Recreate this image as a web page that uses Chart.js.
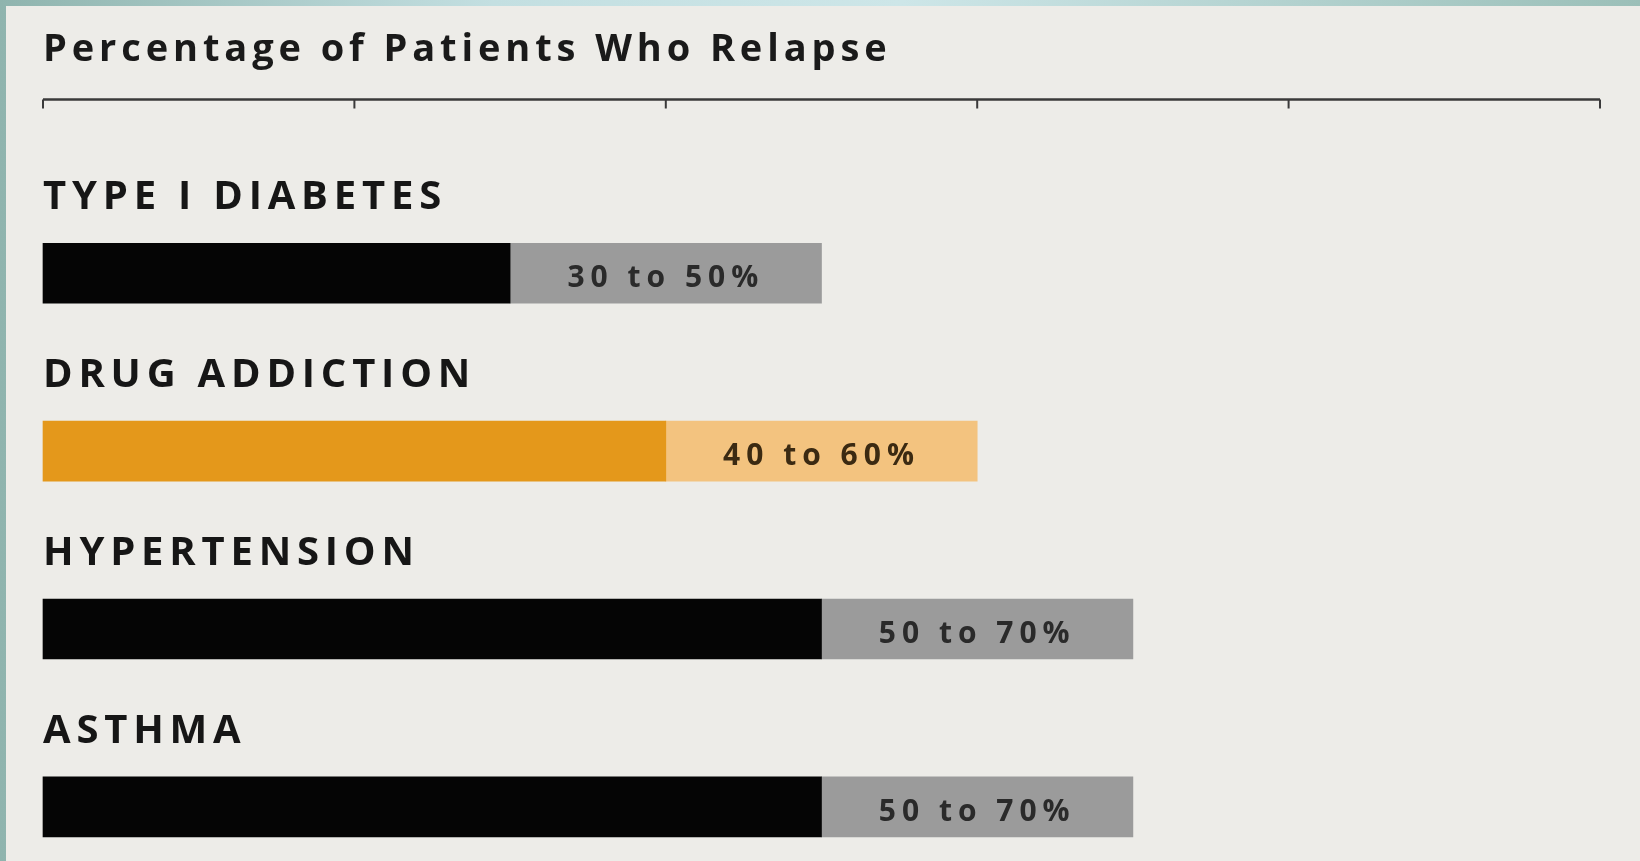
<!DOCTYPE html>
<html>
<head>
<meta charset="utf-8">
<title>Percentage of Patients Who Relapse</title>
<script src="https://cdn.jsdelivr.net/npm/chart.js@4.4.1/dist/chart.umd.min.js"></script>
<style>
  html, body { margin: 0; padding: 0; width: 1640px; height: 861px; overflow: hidden; }
  body { position: relative; background: linear-gradient(90deg, #8fb4ae 0%, #c3dfe1 30%, #cde6e8 55%, #9bbfb8 100%); }
  .panel { position: absolute; left: 6px; top: 6px; right: 0; bottom: 0; background: #edece8; }
  canvas { position: absolute; left: 0; top: 0; }
</style>
</head>
<body>
<div class="panel"></div>
<canvas id="relapse" width="1640" height="861"></canvas>
<script>
const conditions = ["TYPE I DIABETES", "DRUG ADDICTION", "HYPERTENSION", "ASTHMA"]
const relapseLow = [30, 40, 50, 50]
const relapseHigh = [50, 60, 70, 70]

const solidColors = ["#050505", "#e4981b", "#050505", "#050505"]
const rangeColors = ["#9b9b9b", "#f3c37f", "#9b9b9b", "#9b9b9b"]
const rangeTextColors = ["#2a2a2a", "#3b2a12", "#2a2a2a", "#2a2a2a"]

const FONT = "'Open Sans', 'DejaVu Sans', sans-serif"

// top rule with hanging ticks, condition names above the bars, range text inside
const relapseLabels = {
  id: "relapseLabels",
  beforeDraw(chart) {
    chart.ctx.letterSpacing = "4.9px"
  },
  beforeDatasetsDraw(chart) {
    chart.ctx.letterSpacing = "0px"
  },
  afterDatasetsDraw(chart) {
    const { ctx, chartArea, scales } = chart
    const x = scales.x
    const top = chartArea.top

    ctx.save()
    ctx.strokeStyle = "#3a3a3a"
    ctx.lineWidth = 2.5
    ctx.beginPath()
    ctx.moveTo(x.left, top)
    ctx.lineTo(x.right, top)
    ctx.stroke()
    ctx.lineWidth = 2
    ctx.beginPath()
    x.ticks.forEach(t => {
      const px = x.getPixelForValue(t.value)
      ctx.moveTo(px, top)
      ctx.lineTo(px, top + 9)
    })
    ctx.stroke()

    const solid = chart.getDatasetMeta(0).data
    const range = chart.getDatasetMeta(1).data

    ctx.textAlign = "left"
    ctx.textBaseline = "alphabetic"
    ctx.font = `bold 40px ${FONT}`
    ctx.letterSpacing = "5.8px"
    ctx.fillStyle = "#161616"
    chart.data.labels.forEach((name, i) => {
      const bar = solid[i]
      ctx.fillText(name, bar.base, bar.y - bar.height / 2 - 34)
    })

    ctx.textAlign = "center"
    ctx.font = `bold 30px ${FONT}`
    ctx.letterSpacing = "6px"
    range.forEach((bar, i) => {
      ctx.fillStyle = rangeTextColors[i]
      ctx.fillText(`${relapseLow[i]} to ${relapseHigh[i]}%`, (bar.x + bar.base) / 2, bar.y + 14)
    })
    ctx.restore()
  },
}

new Chart(document.getElementById("relapse"), {
  type: "bar",
  data: {
    labels: conditions,
    datasets: [
      {
        label: "Low estimate",
        data: relapseLow.map((v, i) => ({ x: v, y: i })),
        backgroundColor: solidColors,
        barThickness: 60,
        grouped: false,
        clip: false,
      },
      {
        label: "Range",
        data: relapseLow.map((v, i) => ({ x: [v, relapseHigh[i]], y: i })),
        backgroundColor: rangeColors,
        barThickness: 60,
        grouped: false,
        clip: false,
      },
    ],
  },
  options: {
    indexAxis: "y",
    responsive: false,
    animation: false,
    events: [],
    layout: { padding: { left: 43, right: 40, top: 0, bottom: 0 } },
    scales: {
      x: {
        type: "linear",
        display: false,
        min: 0,
        max: 100,
        ticks: { stepSize: 20 },
      },
      y: {
        type: "linear",
        display: false,
        reverse: true,
        offset: false,
        bounds: "data",
        min: -0.976,
        max: 3.304,
      },
    },
    plugins: {
      legend: { display: false },
      tooltip: { enabled: false },
      title: {
        display: true,
        text: "Percentage of Patients Who Relapse",
        align: "start",
        color: "#1a1a1a",
        font: { family: FONT, size: 38, weight: "bold" },
        padding: { top: 27, bottom: 27 },
      },
    },
  },
  plugins: [relapseLabels],
})
</script>
</body>
</html>
